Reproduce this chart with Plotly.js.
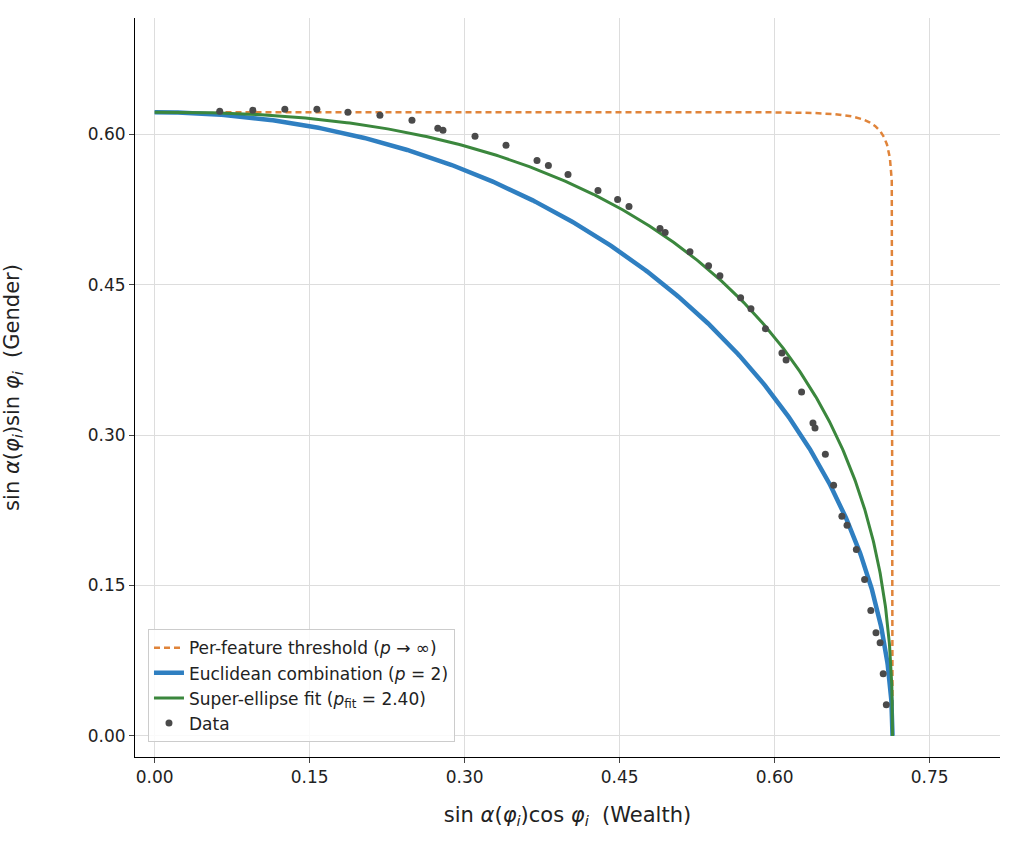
<!DOCTYPE html>
<html><head><script src="https://cdn.plot.ly/plotly-3.0.1.min.js"></script>
<style>body{margin:0}</style></head><body>
<div id="c" style="width:1020px;height:859px"></div>
<script>
const dataX=[0.063,0.095,0.126,0.157,0.187,0.218,0.249,0.274,0.279,0.310,0.340,0.370,0.381,0.400,0.429,0.448,0.459,0.489,0.494,0.518,0.536,0.547,0.567,0.577,0.591,0.607,0.611,0.626,0.637,0.639,0.649,0.657,0.665,0.670,0.679,0.687,0.693,0.698,0.702,0.705,0.708];
const dataY=[0.623,0.624,0.625,0.625,0.622,0.619,0.614,0.606,0.604,0.598,0.589,0.574,0.569,0.560,0.544,0.535,0.528,0.506,0.502,0.483,0.469,0.459,0.437,0.426,0.406,0.382,0.375,0.343,0.312,0.307,0.281,0.250,0.219,0.210,0.186,0.156,0.125,0.103,0.093,0.062,0.031];
const semiA=0.714, semiB=0.622;
const pThreshold=30, pEuclid=2, pFit=2.40;
const tickVals=[0,0.15,0.30,0.45,0.60,0.75];
const tickText=['0.00','0.15','0.30','0.45','0.60','0.75'];
function superellipse(p){const xs=[],ys=[];const n=400;
 for(let i=0;i<=n;i++){const t=(Math.PI/2)*i/n;const c=Math.cos(t),s=Math.sin(t);
  xs.push(semiA*Math.pow(c,2/p));ys.push(semiB*Math.pow(s,2/p));}
 return {xs,ys};}
const th=superellipse(pThreshold),eu=superellipse(pEuclid),fi=superellipse(pFit);
const F='DejaVu Sans';
const traces=[
 {x:th.xs,y:th.ys,mode:'lines',line:{color:'#e0843a',width:2.5,dash:'6px,4px'},name:'Per-feature threshold (<i>p</i> → ∞)'},
 {x:eu.xs,y:eu.ys,mode:'lines',line:{color:'#2f7fc1',width:4.5},name:'Euclidean combination (<i>p</i> = 2)'},
 {x:fi.xs,y:fi.ys,mode:'lines',line:{color:'#3b873d',width:3},name:'Super-ellipse fit (<i>p</i><sub>fit</sub> = 2.40)'},
 {x:dataX,y:dataY,mode:'markers',marker:{color:'#4a4a4a',size:7},name:'Data'}
];
const layout={width:1020,height:859,margin:{l:135,r:20,t:18,b:102},
 plot_bgcolor:'white',paper_bgcolor:'white',font:{family:F,size:17,color:'#222'},
 xaxis:{range:[-0.019,0.818],tickvals:tickVals,ticktext:tickText,showgrid:true,gridcolor:'#dddddd',zeroline:false,
  showline:true,linecolor:'black',ticks:'outside',ticklen:5,automargin:false,
  title:{text:'sin <i>α</i>(<i>φ</i><sub><i>i</i></sub>)cos <i>φ</i><sub><i>i</i></sub>  (Wealth)',font:{size:21},standoff:20}},
 yaxis:{range:[-0.021,0.716],tickvals:[0,0.15,0.30,0.45,0.60],ticktext:['0.00','0.15','0.30','0.45','0.60'],showgrid:true,gridcolor:'#dddddd',zeroline:false,
  showline:true,linecolor:'black',ticks:'outside',ticklen:5,automargin:false,
  title:{text:'sin <i>α</i>(<i>φ</i><sub><i>i</i></sub>)sin <i>φ</i><sub><i>i</i></sub>  (Gender)',font:{size:21},standoff:70}},
 legend:{x:0.015,y:0.02,xanchor:'left',yanchor:'bottom',bgcolor:'rgba(255,255,255,0.85)',bordercolor:'#cccccc',borderwidth:1,font:{size:17}},
 showlegend:true};
Plotly.newPlot('c',traces,layout,{displayModeBar:false});
</script></body></html>
